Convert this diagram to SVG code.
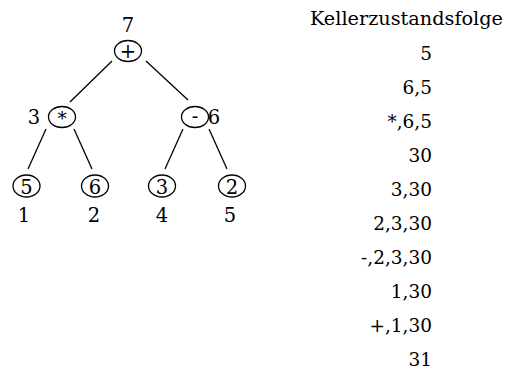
<svg xmlns="http://www.w3.org/2000/svg" width="511" height="370" viewBox="0 0 511 370">
  <style>
    text { font-family: "DejaVu Serif", serif; font-size: 18.5px; fill: #000; }
    .t { font-size: 19.5px; }
    .c { text-anchor: middle; }
    .r { text-anchor: end; }
    ellipse { fill: none; stroke: #000; stroke-width: 1.3; }
    line { stroke: #000; stroke-width: 1.3; }
  </style>

  <!-- tree edges -->
  <g id="edges">
    <line x1="112" y1="61" x2="70" y2="102"/>
    <line x1="146" y1="61" x2="188" y2="100"/>
    <line x1="46" y1="129" x2="28" y2="169"/>
    <line x1="74" y1="129" x2="92" y2="169"/>
    <line x1="183" y1="129" x2="165" y2="169"/>
    <line x1="209" y1="129" x2="227" y2="169"/>
  </g>

  <!-- operator nodes -->
  <g id="plus">
    <ellipse cx="128" cy="51" rx="13.5" ry="10.5"/>
    <text class="c t" x="128" y="58">+</text>
    <text class="c t" x="128" y="32">7</text>
  </g>
  <g id="times">
    <ellipse cx="62" cy="117" rx="13.5" ry="10.5"/>
    <text class="c" x="62" y="125" font-size="14">*</text>
    <text class="c t" x="34" y="124">3</text>
  </g>
  <g id="minus">
    <ellipse cx="195" cy="117" rx="13.5" ry="10.5"/>
    <text class="c t" x="195" y="123">-</text>
    <text class="c t" x="214" y="124">6</text>
  </g>

  <!-- operand leaves -->
  <g id="leaf5">
    <ellipse cx="26.5" cy="186" rx="13.5" ry="11"/>
    <text class="c t" x="26.5" y="194">5</text>
    <text class="c t" x="24" y="222">1</text>
  </g>
  <g id="leaf6">
    <ellipse cx="95" cy="186" rx="13.5" ry="11"/>
    <text class="c t" x="95" y="194">6</text>
    <text class="c t" x="94" y="222">2</text>
  </g>
  <g id="leaf3">
    <ellipse cx="162" cy="186" rx="13.5" ry="11"/>
    <text class="c t" x="162" y="194">3</text>
    <text class="c t" x="162" y="222">4</text>
  </g>
  <g id="leaf2">
    <ellipse cx="232" cy="186" rx="13.5" ry="11"/>
    <text class="c t" x="232" y="194">2</text>
    <text class="c t" x="230" y="222">5</text>
  </g>

  <!-- stack sequence -->
  <g id="stack">
    <text x="310" y="25" textLength="193" lengthAdjust="spacingAndGlyphs">Kellerzustandsfolge</text>
    <text class="r" x="432" y="60">5</text>
    <text class="r" x="432" y="94">6,5</text>
    <text class="r" x="432" y="128">*,6,5</text>
    <text class="r" x="432" y="162">30</text>
    <text class="r" x="432" y="196">3,30</text>
    <text class="r" x="432" y="230">2,3,30</text>
    <text class="r" x="432" y="264">-,2,3,30</text>
    <text class="r" x="432" y="298">1,30</text>
    <text class="r" x="432" y="332">+,1,30</text>
    <text class="r" x="432" y="366">31</text>
  </g>
</svg>
